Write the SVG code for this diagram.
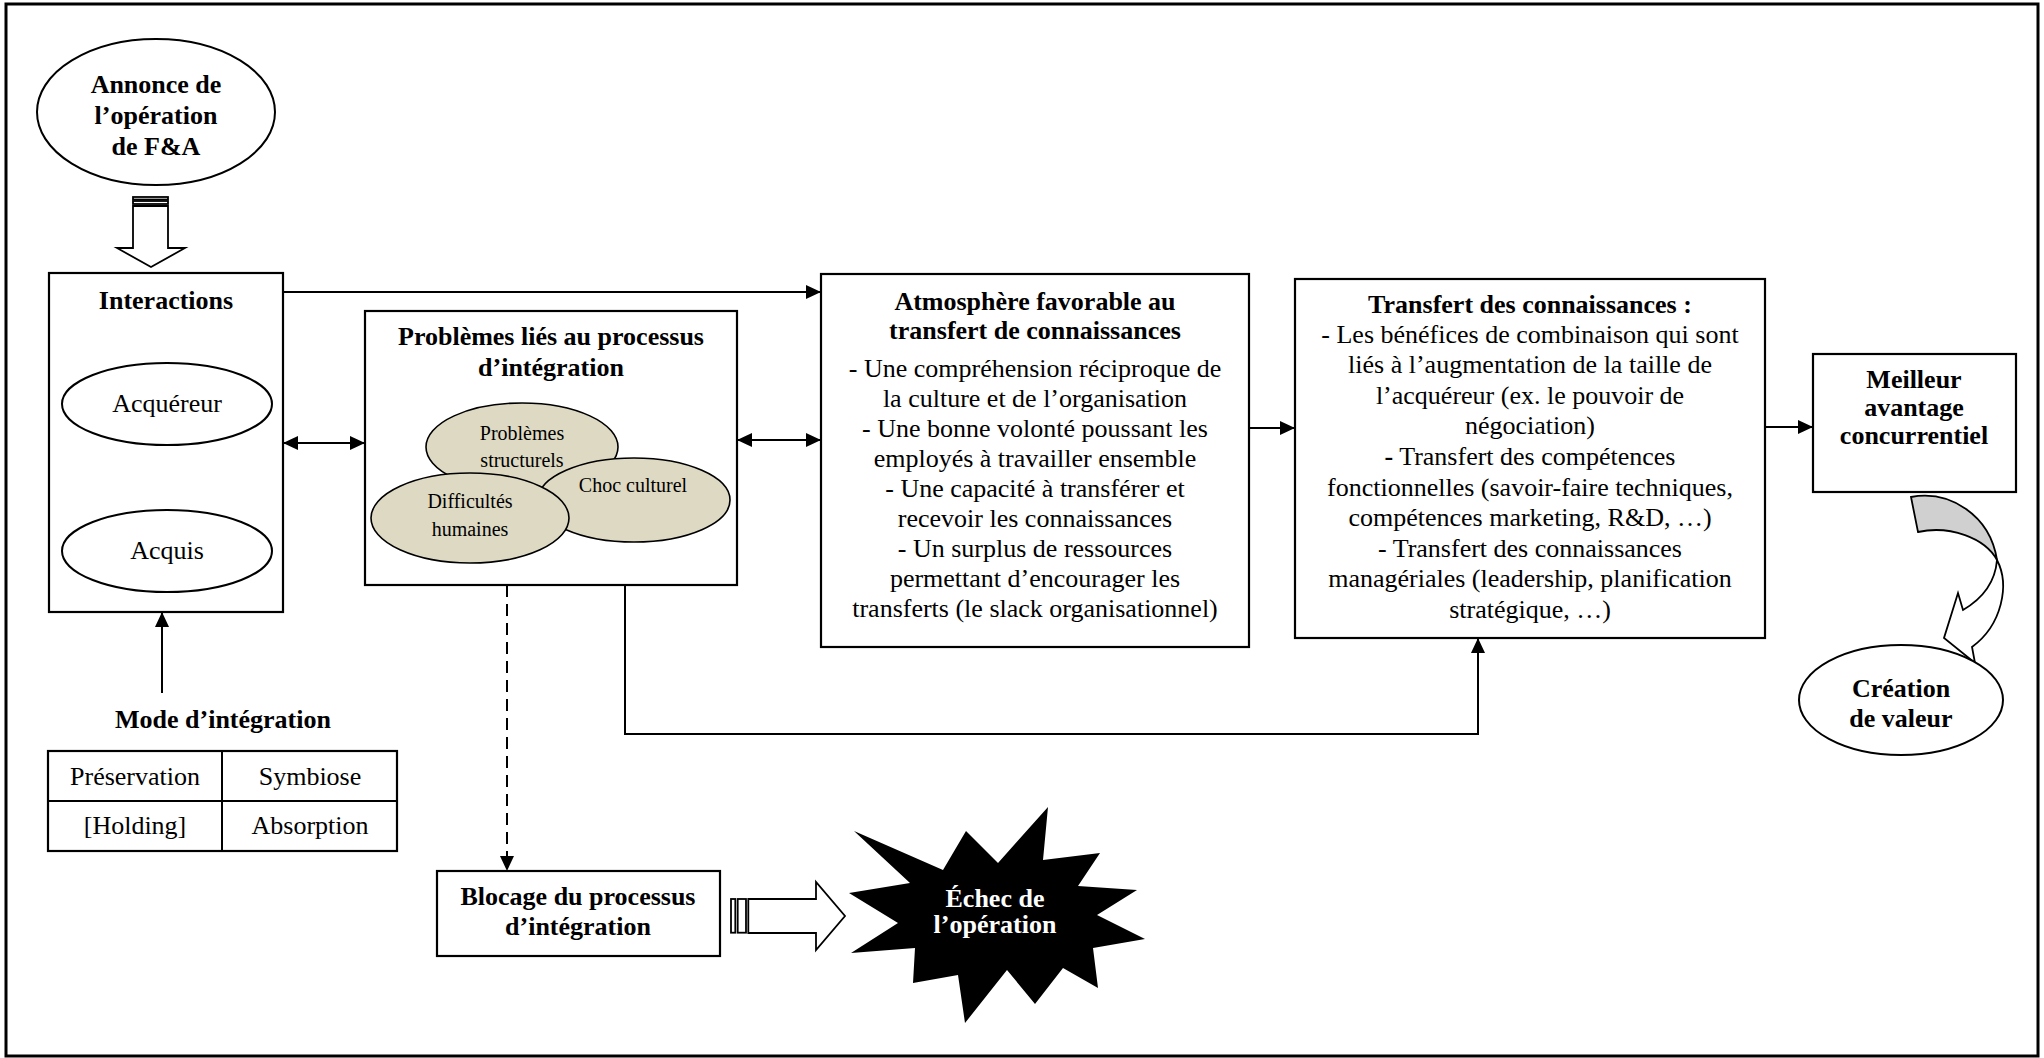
<svg xmlns="http://www.w3.org/2000/svg" width="2044" height="1058" viewBox="0 0 2044 1058">
<style>
text{fill:#000;text-anchor:middle}
.b{font-weight:bold;font-size:26px}
.r{font-size:26px}
.s{font-size:20px}
.box{fill:#fff;stroke:#000;stroke-width:2.2}
.ell{fill:#fff;stroke:#000;stroke-width:2}
.tan{fill:#ddd9c3;stroke:#000;stroke-width:1.6}
.ln{fill:none;stroke:#000;stroke-width:2}
.arr{marker-end:url(#ah)}
.dbl{marker-start:url(#ah);marker-end:url(#ah)}
.blk{fill:#fff;stroke:#000;stroke-width:1.8}
</style>
<defs>
<marker id="ah" viewBox="0 0 15 14" refX="15" refY="7" markerWidth="15" markerHeight="14" markerUnits="userSpaceOnUse" orient="auto-start-reverse">
<path d="M0,0 L15,7 L0,14 Z" fill="#000"/>
</marker>
</defs>
<rect x="6" y="4" width="2032" height="1052" fill="#fff" stroke="#000" stroke-width="3"/>

<g id="connectors">
<rect class="blk" x="133" y="197" width="35" height="2.5"/>
<rect class="blk" x="133" y="201" width="35" height="3"/>
<path class="blk" d="M133,206 L168,206 L168,248 L185,248 L151,267 L117,248 L133,248 Z"/>
<polyline class="ln arr" points="283,292 821,292"/>
<line class="ln dbl" x1="128" y1="447" x2="129" y2="510"/>
<line class="ln dbl" x1="194" y1="447" x2="195" y2="510"/>
<line class="ln dbl" x1="283" y1="443" x2="365" y2="443"/>
<line class="ln dbl" x1="737" y1="440" x2="821" y2="440"/>
<line class="ln arr" x1="1249" y1="428" x2="1295" y2="428"/>
<line class="ln arr" x1="1765" y1="427" x2="1813" y2="427"/>
<line class="ln arr" x1="162" y1="693" x2="162" y2="612"/>
<polyline class="ln arr" points="625,585 625,734 1478,734 1478,638"/>
<line class="ln arr" x1="507" y1="585" x2="507" y2="871" stroke-dasharray="12 7"/>
<rect class="blk" x="731" y="899" width="4.3" height="33.7"/>
<rect class="blk" x="737.7" y="899" width="8.3" height="33.7"/>
<path class="blk" d="M748.3,899 L816,899 L816,882 L845,916 L816,950 L816,933 L748.3,933 Z"/>
<path d="M1911,497 C1950,490 1990,515 1997,560 C1985,538 1950,525 1918,532 Z" fill="#d0d0d0" stroke="#000" stroke-width="1.8"/>
<path d="M1997,560 C2010,585 2002,625 1972,647 L1975,663 L1944,638 L1958,593 L1963,610 C1980,600 1995,585 1997,560 Z" fill="#fff" stroke="#000" stroke-width="1.8"/>
</g>

<g font-family="Liberation Serif, Times New Roman, DejaVu Serif, serif">
<g id="n-annonce">
<ellipse class="ell" cx="156" cy="112" rx="119" ry="73"/>
<text class="b" x="156" y="93">Annonce de</text>
<text class="b" x="156" y="124">l’opération</text>
<text class="b" x="156" y="155">de F&amp;A</text>
</g>

<g id="n-interactions">
<rect class="box" x="49" y="273" width="234" height="339"/>
<text class="b" x="166" y="309">Interactions</text>
</g>
<g id="n-acquereur">
<ellipse class="ell" cx="167" cy="404" rx="105" ry="41"/>
<text class="r" x="167" y="412">Acquéreur</text>
</g>
<g id="n-acquis">
<ellipse class="ell" cx="167" cy="551" rx="105" ry="41"/>
<text class="r" x="167" y="559">Acquis</text>
</g>

<g id="n-problemes">
<rect class="box" x="365" y="311" width="372" height="274"/>
<text class="b" x="551" y="345">Problèmes liés au processus</text>
<text class="b" x="551" y="376">d’intégration</text>
</g>
<g id="n-prob-struct">
<ellipse class="tan" cx="522" cy="447" rx="96" ry="44"/>
</g>
<g id="n-choc">
<ellipse class="tan" cx="634" cy="500" rx="96" ry="42"/>
</g>
<g id="n-difficultes">
<ellipse class="tan" cx="470" cy="518" rx="99" ry="45"/>
</g>
<g id="ellipse-labels">
<text class="s" x="522" y="440">Problèmes</text>
<text class="s" x="522" y="467">structurels</text>
<text class="s" x="633" y="492">Choc culturel</text>
<text class="s" x="470" y="508">Difficultés</text>
<text class="s" x="470" y="536">humaines</text>
</g>

<g id="n-atmosphere">
<rect class="box" x="821" y="274" width="428" height="373"/>
<text class="b" x="1035" y="310">Atmosphère favorable au</text>
<text class="b" x="1035" y="339">transfert de connaissances</text>
<text class="r" x="1035" y="377">- Une compréhension réciproque de</text>
<text class="r" x="1035" y="407">la culture et de l’organisation</text>
<text class="r" x="1035" y="437">- Une bonne volonté poussant les</text>
<text class="r" x="1035" y="467">employés à travailler ensemble</text>
<text class="r" x="1035" y="497">- Une capacité à transférer et</text>
<text class="r" x="1035" y="527">recevoir les connaissances</text>
<text class="r" x="1035" y="557">- Un surplus de ressources</text>
<text class="r" x="1035" y="587">permettant d’encourager les</text>
<text class="r" x="1035" y="617">transferts (le slack organisationnel)</text>
</g>

<g id="n-transfert">
<rect class="box" x="1295" y="279" width="470" height="359"/>
<text class="b" x="1530" y="313">Transfert des connaissances :</text>
<text class="r" x="1530" y="343">- Les bénéfices de combinaison qui sont</text>
<text class="r" x="1530" y="373">liés à l’augmentation de la taille de</text>
<text class="r" x="1530" y="404">l’acquéreur (ex. le pouvoir de</text>
<text class="r" x="1530" y="434">négociation)</text>
<text class="r" x="1530" y="465"><tspan font-weight="bold">-</tspan> Transfert des compétences</text>
<text class="r" x="1530" y="496">fonctionnelles (savoir-faire techniques,</text>
<text class="r" x="1530" y="526">compétences marketing, R&amp;D, …)</text>
<text class="r" x="1530" y="557">- Transfert des connaissances</text>
<text class="r" x="1530" y="587">managériales (leadership, planification</text>
<text class="r" x="1530" y="618">stratégique, …)</text>
</g>

<g id="n-meilleur">
<rect class="box" x="1813" y="354" width="203" height="138"/>
<text class="b" x="1914" y="388">Meilleur</text>
<text class="b" x="1914" y="416">avantage</text>
<text class="b" x="1914" y="444">concurrentiel</text>
</g>

<g id="n-creation">
<ellipse class="ell" cx="1901" cy="700" rx="102" ry="55"/>
<text class="b" x="1901" y="697">Création</text>
<text class="b" x="1901" y="727">de valeur</text>
</g>

<g id="n-mode">
<text class="b" x="223" y="728">Mode d’intégration</text>
<rect class="box" x="48" y="751" width="349" height="100"/>
<line class="ln" x1="48" y1="801" x2="397" y2="801"/>
<line class="ln" x1="222" y1="751" x2="222" y2="851"/>
<text class="r" x="135" y="785">Préservation</text>
<text class="r" x="310" y="785">Symbiose</text>
<text class="r" x="135" y="834">[Holding]</text>
<text class="r" x="310" y="834">Absorption</text>
</g>

<g id="n-blocage">
<rect class="box" x="437" y="871" width="283" height="85"/>
<text class="b" x="578" y="905">Blocage du processus</text>
<text class="b" x="578" y="935">d’intégration</text>
</g>

<g id="n-echec">
<polygon fill="#000" points="1048,807 1043,860 1100,853 1078,886 1137,890 1097,915 1145,939 1093,948 1098,988 1063,968 1035,1004 1007,970 965,1023 958,975 913,983 915,948 851,953 898,923 849,893 910,883 854,831 943,870 966,831 998,863"/>
<text class="b" x="995" y="907" style="fill:#fff">Échec de</text>
<text class="b" x="995" y="933" style="fill:#fff">l’opération</text>
</g>
</g>
</svg>
